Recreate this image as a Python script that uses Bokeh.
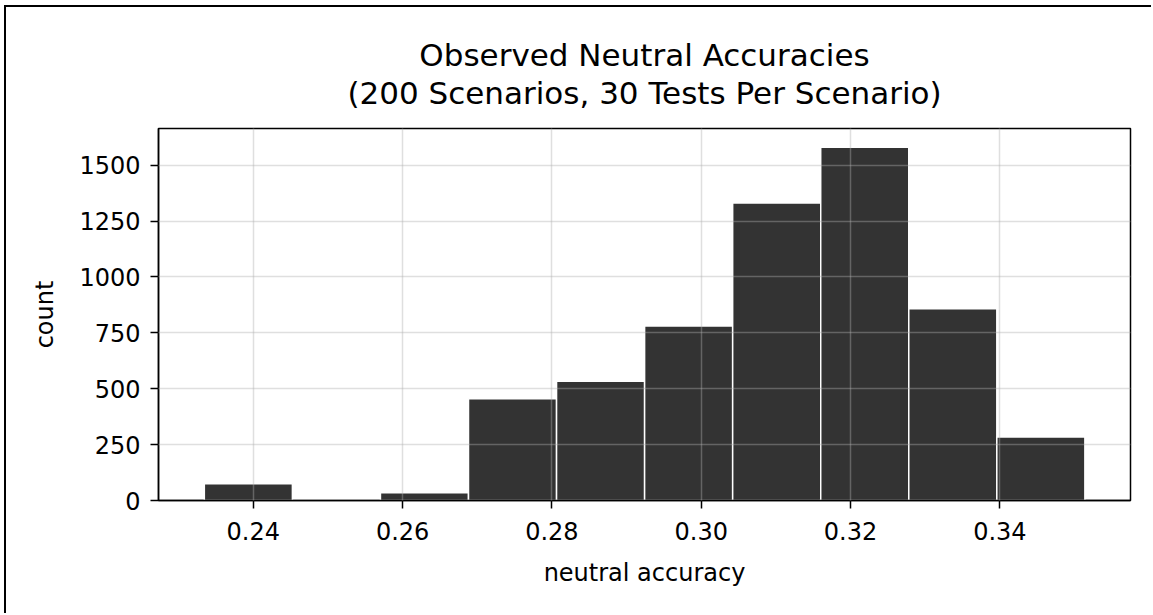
import numpy as np
from bokeh.plotting import figure
from bokeh.models import Title, FixedTicker, Range1d, PrintfTickFormatter, ColumnDataSource
from bokeh.embed import file_html
from bokeh.resources import INLINE

# ---- data ----
acc_min = 0.23344
acc_max = 0.35139
n_bins = 10
counts = [75, 0, 35, 455, 533, 781, 1331, 1580, 858, 284]
x_ticks = [0.24, 0.26, 0.28, 0.30, 0.32, 0.34]
y_ticks = [0, 250, 500, 750, 1000, 1250, 1500]
title_line1 = "Observed Neutral Accuracies"
title_line2 = "(200 Scenarios, 30 Tests Per Scenario)"

edges = np.linspace(acc_min, acc_max, n_bins + 1)
src = ColumnDataSource(dict(left=edges[:-1], right=edges[1:], top=counts, bottom=[0] * n_bins))

FONT = "DejaVu Sans"

p = figure(width=1147, height=608, output_backend="svg", toolbar_location=None,
           x_range=Range1d(0.2273, 0.3575), y_range=Range1d(0, 1664),
           min_border_left=152, min_border_right=23, min_border_top=121, min_border_bottom=115)
p.styles = {"border-top": "2px solid black", "border-left": "2px solid black",
            "margin-left": "4px", "margin-top": "5px"}

p.quad(left="left", right="right", top="top", bottom="bottom", source=src,
       fill_color="#333333", line_color="white", line_width=1.5)

p.add_layout(Title(text=title_line2, align="center", text_font=FONT, text_font_size="31px",
                   text_font_style="normal", text_color="black", standoff=35), "above")
p.add_layout(Title(text=title_line1, align="center", text_font=FONT, text_font_size="31px",
                   text_font_style="normal", text_color="black", standoff=-34), "above")

p.xaxis.ticker = FixedTicker(ticks=x_ticks)
p.yaxis.ticker = FixedTicker(ticks=y_ticks)
p.xaxis.formatter = PrintfTickFormatter(format="%.2f")
for ax in (p.xaxis[0], p.yaxis[0]):
    ax.major_label_text_font = FONT
    ax.major_label_text_font_size = "24px"
    ax.major_label_text_color = "black"
    ax.axis_label_text_font = FONT
    ax.axis_label_text_font_size = "24px"
    ax.axis_label_text_font_style = "normal"
    ax.axis_label_text_color = "black"
    ax.major_tick_out = 8
    ax.major_tick_in = 0
    ax.minor_tick_out = 0
    ax.minor_tick_in = 0
    ax.major_tick_line_width = 1.5
    ax.major_tick_line_color = "black"
    ax.axis_line_color = "black"
    ax.axis_line_width = 1.5
p.xaxis.major_label_standoff = 13
p.yaxis.major_label_standoff = 10
p.xaxis.axis_label_standoff = 16
p.yaxis.axis_label_standoff = 17
p.xaxis.axis_label = "neutral accuracy"
p.yaxis.axis_label = "count"

p.outline_line_color = "black"
p.outline_line_width = 1.5
p.outline_line_alpha = 1.0

for g in (p.xgrid[0], p.ygrid[0]):
    g.grid_line_color = "#b0b0b0"
    g.grid_line_alpha = 0.4
    g.grid_line_width = 1.5
    g.level = "annotation"
p.xgrid.ticker = FixedTicker(ticks=x_ticks)
p.ygrid.ticker = FixedTicker(ticks=y_ticks)

open("out.html", "w").write(file_html(p, INLINE))
